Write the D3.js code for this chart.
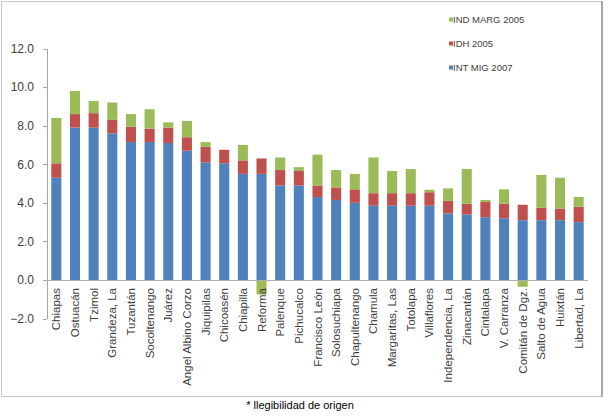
<!DOCTYPE html>
<html lang="es">
<head>
  <meta charset="UTF-8">
  <title>Indicadores por municipio</title>
  <script src="https://d3js.org/d3.v7.min.js"></script>
  <style>
    body { margin: 0; background: #fff; }
    text { font-family: "Liberation Sans", Arial, sans-serif; }
    .axis path, .axis line { stroke: #a6a6a6; shape-rendering: crispEdges; }
    .axis text { fill: #404040; font-size: 12px; }
  </style>
</head>
<body>
  <svg width="608" height="416"></svg>

  <script>
    // Municipios
    const municipios = ["Chiapas", "Ostuacán", "Tzimol", "Grandeza, La", "Tuzantán", "Socoltenango",
      "Juárez", "Angel Albino Corzo", "Jiquipilas", "Chicoasén", "Chiapilla", "Reforma", "Palenque",
      "Pichucalco", "Francisco León", "Solosuchiapa", "Chapultenango", "Chamula", "Margaritas, Las",
      "Totolapa", "Villaflores", "Independencia, La", "Zinacantán", "Cintalapa", "V. Carranza",
      "Comitán de Dgz.", "Salto de Agua", "Huixtán", "Libertad, La"];

    // Series
    const intMig2007 = [5.3, 7.9, 7.9, 7.6, 7.15, 7.15, 7.1, 6.7, 6.1, 6.05, 5.5, 5.5, 4.9,
      4.9, 4.3, 4.15, 4.0, 3.85, 3.85, 3.85, 3.85, 3.45, 3.4, 3.25, 3.2, 3.1, 3.1, 3.1, 3.0];
    const idh2005 = [0.75, 0.7, 0.75, 0.7, 0.8, 0.7, 0.8, 0.7, 0.8, 0.7, 0.7, 0.8, 0.8,
      0.75, 0.6, 0.65, 0.7, 0.65, 0.65, 0.65, 0.7, 0.65, 0.55, 0.8, 0.75, 0.8, 0.65, 0.6, 0.8];
    const indMarg2005 = [2.35, 1.2, 0.63, 0.9, 0.65, 1.0, 0.27, 0.85, 0.25, 0, 0.8, -0.75, 0.65,
      0.2, 1.6, 0.9, 0.8, 1.85, 1.15, 1.25, 0.13, 0.65, 1.8, 0.1, 0.75, -0.35, 1.7, 1.6, 0.5];

    const series = ["INT MIG 2007", "IDH 2005", "IND MARG 2005"];
    const yTicks = [-2, 0, 2, 4, 6, 8, 10, 12];

    const svg = d3.select("svg");
    const margin = {left: 47, right: 588, top: 48.5, zero: 280};

    // Marco
    svg.append("rect")
       .attr("x", 1.5).attr("y", 1.5)
       .attr("width", 600).attr("height", 395)
       .attr("fill", "none")
       .attr("stroke", "#c8c8c8");
    svg.append("line")
       .attr("x1", 602).attr("x2", 602).attr("y1", 1).attr("y2", 397)
       .attr("stroke", "#a8a8a8").attr("stroke-width", 2);

    const color = d3.scaleOrdinal()
                    .domain(series)
                    .range(["#4F81BD", "#C0504D", "#9BBB59"]);

    const x = d3.scaleBand()
                .domain(municipios)
                .range([margin.left, margin.right])
                .paddingInner(0.46)
                .paddingOuter(0.23);

    const unit = (margin.zero - margin.top) / 12;
    const y = d3.scaleLinear()
                .domain([-2, 12])
                .range([margin.zero + 2 * unit, margin.top]);

    // Datos apilados
    const rows = municipios.map((m, i) => ({
      municipio: m,
      "INT MIG 2007": intMig2007[i],
      "IDH 2005": idh2005[i],
      "IND MARG 2005": indMarg2005[i]
    }));
    const stacked = d3.stack().keys(series).offset(d3.stackOffsetDiverging)(rows);

    svg.append("g")
       .selectAll("g")
       .data(stacked)
       .join("g")
       .attr("fill", d => color(d.key))
       .selectAll("rect")
       .data(d => d)
       .join("rect")
       .attr("x", d => x(d.data.municipio))
       .attr("width", x.bandwidth())
       .attr("y", d => y(Math.max(d[0], d[1])))
       .attr("height", d => Math.abs(y(d[0]) - y(d[1])));

    // Eje Y
    svg.append("g")
       .attr("class", "axis")
       .attr("transform", `translate(${margin.left},0)`)
       .call(d3.axisLeft(y).tickValues(yTicks).tickFormat(d3.format(".1f"))
         .tickSize(4).tickPadding(9).tickSizeOuter(0));

    // Eje X en 0
    svg.append("line")
       .attr("x1", margin.left).attr("x2", margin.right)
       .attr("y1", y(0)).attr("y2", y(0))
       .attr("stroke", "#b0b0b0")
       .style("shape-rendering", "crispEdges");

    // Etiquetas de municipios
    svg.append("g")
       .selectAll("text")
       .data(municipios)
       .join("text")
       .attr("transform", d => `translate(${x(d) + x.bandwidth() / 2},288) rotate(-90)`)
       .attr("text-anchor", "end")
       .attr("dy", "0.35em")
       .attr("fill", "#404040")
       .style("font-size", "11.5px")
       .text(d => d);

    // Leyenda
    const legend = svg.append("g")
                      .selectAll("g")
                      .data(series.slice().reverse())
                      .join("g")
                      .attr("transform", (d, i) => `translate(449,${20 + i * 24})`);
    legend.append("rect")
          .attr("x", 0).attr("y", -2.5)
          .attr("width", 4).attr("height", 4)
          .attr("fill", d => color(d));
    legend.append("text")
          .attr("x", 4)
          .attr("dy", "0.35em")
          .attr("fill", "#404040")
          .style("font-size", "9.5px")
          .text(d => d);

    // Nota
    svg.append("text")
       .attr("x", 300).attr("y", 409)
       .attr("text-anchor", "middle")
       .attr("fill", "#000")
       .style("font-size", "11px")
       .text("* llegibilidad de origen");
  </script>
</body>
</html>
